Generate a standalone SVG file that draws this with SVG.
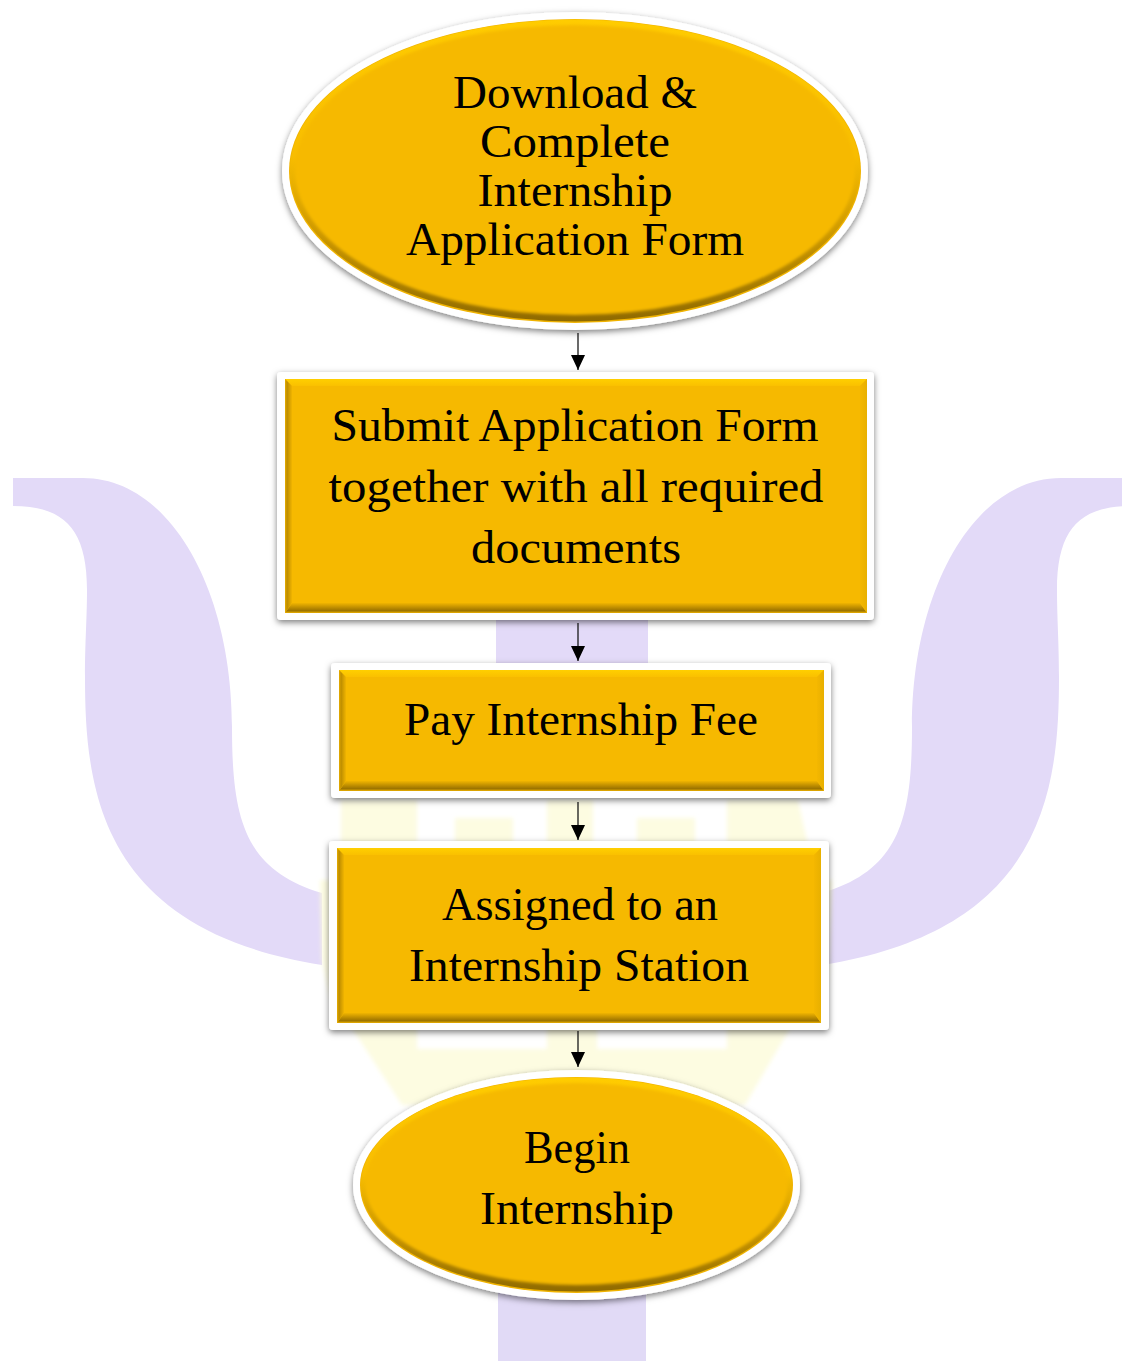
<svg xmlns="http://www.w3.org/2000/svg" width="1122" height="1361" viewBox="0 0 1122 1361">
<defs>
<style>
.t{font-family:"Liberation Serif","Times New Roman",serif;font-size:47px;fill:#000;text-anchor:middle}
.frame{fill:#fff;filter:url(#sh)}
.gold{fill:#f6b900}
.wm{fill:#e3daf8}
.yl{fill:#fdfcdc;fill-opacity:.85}
.c{stroke:#1a1a1a;stroke-width:1.3;fill:none;marker-end:url(#ah)}
.bt{fill:url(#bevT)}.bb{fill:url(#bevB)}.bl{fill:url(#bevL)}.br{fill:url(#bevR)}
</style>
<filter id="sh" x="-5%" y="-6%" width="110%" height="114%"><feDropShadow dx="0" dy="2.500" stdDeviation="3" flood-color="#000" flood-opacity=".5"/></filter>
<filter id="bl" x="-3%" y="-3%" width="106%" height="106%"><feGaussianBlur stdDeviation="1.500"/></filter>
<filter id="soft" x="-5%" y="-5%" width="110%" height="110%"><feGaussianBlur stdDeviation="2"/></filter>
<marker id="ah" markerUnits="userSpaceOnUse" markerWidth="16" markerHeight="14" refX="15" refY="7" orient="auto"><path d="M0 0L15 7L0 14Z" fill="#000"/></marker>
<linearGradient id="rimE" x1="0" y1="0" x2="0" y2="1"><stop offset="0" stop-color="#ffcc00"/><stop offset=".45" stop-color="#f8bd00"/><stop offset=".7" stop-color="#cf9a00"/><stop offset="1" stop-color="#8f6a00"/></linearGradient>
<linearGradient id="bevT" x1="0" y1="0" x2="0" y2="1"><stop offset="0" stop-color="#ffcf00"/><stop offset="1" stop-color="#fac000"/></linearGradient>
<linearGradient id="bevB" x1="0" y1="0" x2="0" y2="1"><stop offset="0" stop-color="#f0b400"/><stop offset=".75" stop-color="#9e7500"/><stop offset=".85" stop-color="#b58700"/><stop offset="1" stop-color="#efb200"/></linearGradient>
<linearGradient id="bevL" x1="0" y1="0" x2="1" y2="0"><stop offset="0" stop-color="#e8ad00"/><stop offset=".3" stop-color="#bd8d00"/><stop offset="1" stop-color="#f0b400"/></linearGradient>
<linearGradient id="bevR" x1="0" y1="0" x2="1" y2="0"><stop offset="0" stop-color="#f4b700"/><stop offset="1" stop-color="#e8b000"/></linearGradient>
<clipPath id="ce1"><ellipse cx="575" cy="171" rx="286" ry="152"/></clipPath>
<clipPath id="ce5"><ellipse cx="576.500" cy="1185" rx="216.500" ry="108"/></clipPath>
<path id="wing" class="wm" d="M13 478H83C170 478 232 590 232 727C232 820 245 870 322 893V965C100 930 85 790 85 677C85 640 87 620 87 590C87 530 65 506 13 506Z"/>
</defs>
<rect width="1122" height="1361" fill="#fff"/>
<g id="watermark">
<use href="#wing"/>
<use href="#wing" transform="matrix(-1 0 0 1 1144 0)"/>
<rect class="wm" x="496" y="600" width="152" height="80"/>
<rect x="498" y="1280" width="148" height="81" fill="#e1daf6"/>
<g filter="url(#soft)">
<path class="yl" d="M341 800H417V850H341Z"/>
<path class="yl" d="M455 818H513V850H455Z"/>
<path class="yl" d="M547 800H593V850H547Z"/>
<path class="yl" d="M637 818H695V850H637Z"/>
<path class="yl" d="M727 800H798L809 850H727Z"/>
<path class="yl" d="M320 880H330V1000L322 960Z"/>
<path class="yl" d="M825 880H832L828 990Z"/>
<path class="yl" d="M350 1025H417V1049H547V1025H597V1049H727V1025H792L745 1105H402Z"/>
</g>
</g>
<g id="connectors">
<path class="c" d="M578 333V370"/>
<path class="c" d="M578 623V661"/>
<path class="c" d="M578 802V840"/>
<path class="c" d="M578 1031V1067"/>
</g>
<g id="node1">
<ellipse class="frame" cx="575" cy="171" rx="293" ry="159"/>
<ellipse cx="575" cy="171" rx="286" ry="152" fill="#f0b300"/>
<ellipse cx="575" cy="170.500" rx="285" ry="151" fill="url(#rimE)"/>
<g clip-path="url(#ce1)"><ellipse cx="575" cy="170" rx="280" ry="145" class="gold" filter="url(#bl)"/></g>
<text class="t" x="575" y="108" textLength="244" lengthAdjust="spacingAndGlyphs">Download &amp;</text>
<text class="t" x="575" y="157" textLength="190" lengthAdjust="spacingAndGlyphs">Complete</text>
<text class="t" x="575" y="206" textLength="195" lengthAdjust="spacingAndGlyphs">Internship</text>
<text class="t" x="575" y="255" textLength="338" lengthAdjust="spacingAndGlyphs">Application Form</text>
</g>
<g id="node2">
<rect class="frame" x="277" y="372" width="597" height="248" rx="4"/>
<rect x="285" y="379" width="582" height="234" class="gold"/>
<path class="bt" d="M285 379H867L860 386H292Z"/><path class="bb" d="M285 613H867L860 603H292Z"/><path class="bl" d="M285 379L292 386V603L285 613Z"/><path class="br" d="M867 379L860 386V603L867 613Z"/>
<text class="t" x="575" y="441" textLength="487" lengthAdjust="spacingAndGlyphs">Submit Application Form</text>
<text class="t" x="576" y="502" textLength="495" lengthAdjust="spacingAndGlyphs">together with all required</text>
<text class="t" x="576" y="563" textLength="210" lengthAdjust="spacingAndGlyphs">documents</text>
</g>
<g id="node3">
<rect class="frame" x="331" y="663" width="500" height="135" rx="4"/>
<rect x="339" y="670" width="485" height="121" class="gold"/>
<path class="bt" d="M339 670H824L817 677H346Z"/><path class="bb" d="M339 791H824L817 781H346Z"/><path class="bl" d="M339 670L346 677V781L339 791Z"/><path class="br" d="M824 670L817 677V781L824 791Z"/>
<text class="t" x="581" y="735" textLength="354" lengthAdjust="spacingAndGlyphs">Pay Internship Fee</text>
</g>
<g id="node4">
<rect class="frame" x="329" y="841" width="500" height="189" rx="4"/>
<rect x="337" y="848" width="484" height="175" class="gold"/>
<path class="bt" d="M337 848H821L814 855H344Z"/><path class="bb" d="M337 1023H821L814 1013H344Z"/><path class="bl" d="M337 848L344 855V1013L337 1023Z"/><path class="br" d="M821 848L814 855V1013L821 1023Z"/>
<text class="t" x="580" y="920" textLength="276" lengthAdjust="spacingAndGlyphs">Assigned to an</text>
<text class="t" x="579" y="981" textLength="340" lengthAdjust="spacingAndGlyphs">Internship Station</text>
</g>
<g id="node5">
<ellipse class="frame" cx="576.500" cy="1185" rx="223.500" ry="115"/>
<ellipse cx="576.500" cy="1185" rx="216.500" ry="108" fill="#f0b300"/>
<ellipse cx="576.500" cy="1184.500" rx="215.500" ry="107" fill="url(#rimE)"/>
<g clip-path="url(#ce5)"><ellipse cx="576.500" cy="1184" rx="211" ry="101" class="gold" filter="url(#bl)"/></g>
<text class="t" x="577" y="1163" textLength="106" lengthAdjust="spacingAndGlyphs">Begin</text>
<text class="t" x="577" y="1224" textLength="194" lengthAdjust="spacingAndGlyphs">Internship</text>
</g>
</svg>
